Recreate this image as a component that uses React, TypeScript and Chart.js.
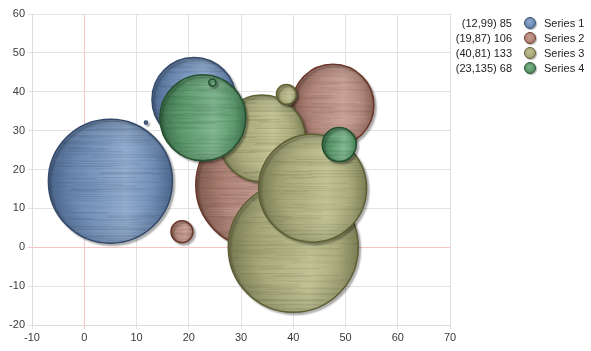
import React, { useEffect, useRef } from "react";
import { Chart, registerables } from "chart.js";

Chart.register(...registerables);

// ---- data ----
const seriesNames = ["Series 1", "Series 2", "Series 3", "Series 4"];
const legendLabels = ["(12,99) 85", "(19,87) 106", "(40,81) 133", "(23,135) 68"];

const series1X = [5, 21, 11.8];
const series1Y = [17, 38, 32.1];
const series1R = [62, 42, 1.5];

const series2X = [33.4, 47.6, 18.7];
const series2Y = [16, 36.5, 4];
const series2R = [63, 41, 11];

const series3X = [40, 34, 38.7, 43.7];
const series3Y = [0, 28, 39.3, 15.2];
const series3R = [65, 43.5, 10, 54];

const series4X = [22.7, 24.5, 48.8];
const series4Y = [33.3, 42.4, 26.4];
const series4R = [43, 3.5, 17];

const xTicks = { min: -10, max: 70, step: 10 };
const yTicks = { min: -20, max: 60, step: 10 };

// ---- styles ----
type Pal = { light: string; mid: string; dark: string; border: string };
const palettes: Pal[] = [
  { light: "#8faacd", mid: "#6f8db6", dark: "#52709a", border: "#34496a" },
  { light: "#c8a094", mid: "#b3877b", dark: "#906457", border: "#6a3628" },
  { light: "#c0c293", mid: "#a8aa7a", dark: "#86885b", border: "#5c5e32" },
  { light: "#7db38d", mid: "#5c9a6c", dark: "#3f7750", border: "#23502f" },
];

const FONT = "'Liberation Sans', Arial, sans-serif";

function hash(n: number) {
  const s = Math.sin(n * 127.1 + 311.7) * 43758.5453;
  return s - Math.floor(s);
}

function brushed(chart: any, cx: number, cy: number, r: number, pal: Pal, seed: number) {
  const size = Math.max(4, Math.ceil(2 * r + 6));
  const cv = document.createElement("canvas");
  cv.width = size;
  cv.height = size;
  const g = cv.getContext("2d")!;
  const grad = g.createLinearGradient(0, 0, size, 0);
  grad.addColorStop(0, pal.dark);
  grad.addColorStop(0.3, pal.mid);
  grad.addColorStop(0.62, pal.light);
  grad.addColorStop(0.85, pal.mid);
  grad.addColorStop(1, pal.dark);
  g.fillStyle = grad;
  g.fillRect(0, 0, size, size);
  for (let i = 0; i < size; i++) {
    const a = hash(i * 1.37 + seed);
    const b = hash(i * 3.1 + seed + 7);
    const x0 = b * size * 0.5;
    const len = size * (0.2 + hash(i * 5.7 + seed) * 0.6);
    g.fillStyle = a < 0.55 ? `rgba(0,0,0,${0.03 + a * 0.12})` : `rgba(255,255,255,${(a - 0.55) * 0.18})`;
    g.fillRect(x0, i, len, 1);
  }
  const rg = g.createRadialGradient(size / 2, size / 2, r * 0.65, size / 2, size / 2, r);
  rg.addColorStop(0, "rgba(0,0,0,0)");
  rg.addColorStop(1, "rgba(0,0,0,0.12)");
  g.fillStyle = rg;
  g.fillRect(0, 0, size, size);
  const p = chart.ctx.createPattern(cv, "no-repeat");
  p.setTransform(new DOMMatrix([1, 0, 0, 1, cx - size / 2, cy - size / 2]));
  return p;
}

function makePoints(xs: number[], ys: number[], rs: number[]) {
  return xs.map((x, i) => ({ x, y: ys[i], r: rs[i] }));
}

const shadowPlugin = {
  id: "bubbleShadow",
  beforeDatasetDraw(chart: any) {
    const c = chart.ctx;
    c.save();
    c.shadowColor = "rgba(0,0,0,0.3)";
    c.shadowBlur = 2;
    c.shadowOffsetX = 2;
    c.shadowOffsetY = 2;
  },
  afterDatasetDraw(chart: any) {
    chart.ctx.restore();
  },
};

const gridColor = (ctx: any) => (ctx.tick && ctx.tick.value === 0 ? "#f6c4c4" : "#e2e2e2");

export default function App() {
  const ref = useRef<HTMLCanvasElement>(null);

  useEffect(() => {
    const sets = [
      makePoints(series1X, series1Y, series1R),
      makePoints(series2X, series2Y, series2R),
      makePoints(series3X, series3Y, series3R),
      makePoints(series4X, series4Y, series4R),
    ];
    const datasets = sets.map((data, si) => {
      const pal = palettes[si];
      return {
        label: seriesNames[si],
        data,
        order: 4 - si,
        borderColor: pal.border,
        borderWidth: 1.5,
        clip: false,
        backgroundColor: (ctx: any) => {
          if (ctx.type !== "data" || !ctx.raw) return pal.mid;
          const ch = ctx.chart;
          const cx = ch.scales.x.getPixelForValue(ctx.raw.x);
          const cy = ch.scales.y.getPixelForValue(ctx.raw.y);
          return brushed(ch, cx, cy, ctx.raw.r, pal, si * 100 + ctx.dataIndex * 17);
        },
      };
    });

    const chart = new Chart(ref.current!, {
      type: "bubble",
      data: { datasets } as any,
      plugins: [shadowPlugin],
      options: {
        responsive: false,
        animation: false,
        events: [],
        layout: { autoPadding: false, padding: { top: 14, right: 141, left: 0, bottom: 0 } },
        plugins: { legend: { display: false }, tooltip: { enabled: false } },
        scales: {
          x: {
            type: "linear",
            min: xTicks.min,
            max: xTicks.max,
            afterFit: (s: any) => {
              s.height = 26;
            },
            ticks: { stepSize: xTicks.step, color: "#3a3a3a", font: { family: FONT, size: 11 }, padding: 2 },
            grid: { color: gridColor, tickLength: 4, lineWidth: 1 },
            border: { color: "#dcdcdc" },
          },
          y: {
            type: "linear",
            min: yTicks.min,
            max: yTicks.max,
            afterFit: (s: any) => {
              s.width = 32;
            },
            ticks: { stepSize: yTicks.step, color: "#3a3a3a", font: { family: FONT, size: 11 }, padding: 3 },
            grid: { color: gridColor, tickLength: 4, lineWidth: 1 },
            border: { color: "#dcdcdc" },
          },
        },
      } as any,
    });
    return () => chart.destroy();
  }, []);

  return (
    <div style={{ position: "fixed", left: 0, top: 0, width: 591, height: 351, background: "#fff", overflow: "hidden" }}>
      <canvas ref={ref} width={591} height={351} style={{ display: "block", width: 591, height: 351 }} />
      {legendLabels.map((lab, i) => {
        const pal = palettes[i];
        return (
          <div
            key={i}
            style={{
              position: "absolute",
              left: 0,
              top: 16 + i * 15,
              width: 591,
              height: 14,
              font: `11px ${FONT}`,
              lineHeight: "14px",
              color: "#222",
            }}
          >
            <span style={{ position: "absolute", right: 591 - 512, top: 0, whiteSpace: "nowrap" }}>{lab}</span>
            <span
              style={{
                position: "absolute",
                left: 524,
                top: 1,
                width: 10,
                height: 10,
                borderRadius: "50%",
                border: `1px solid ${pal.border}`,
                background: `radial-gradient(circle at 45% 40%, ${pal.light} 0%, ${pal.mid} 55%, ${pal.dark} 100%)`,
                boxShadow: "1px 1px 1px rgba(0,0,0,0.3)",
              }}
            />
            <span style={{ position: "absolute", left: 544, top: 0, whiteSpace: "nowrap" }}>{seriesNames[i]}</span>
          </div>
        );
      })}
    </div>
  );
}
